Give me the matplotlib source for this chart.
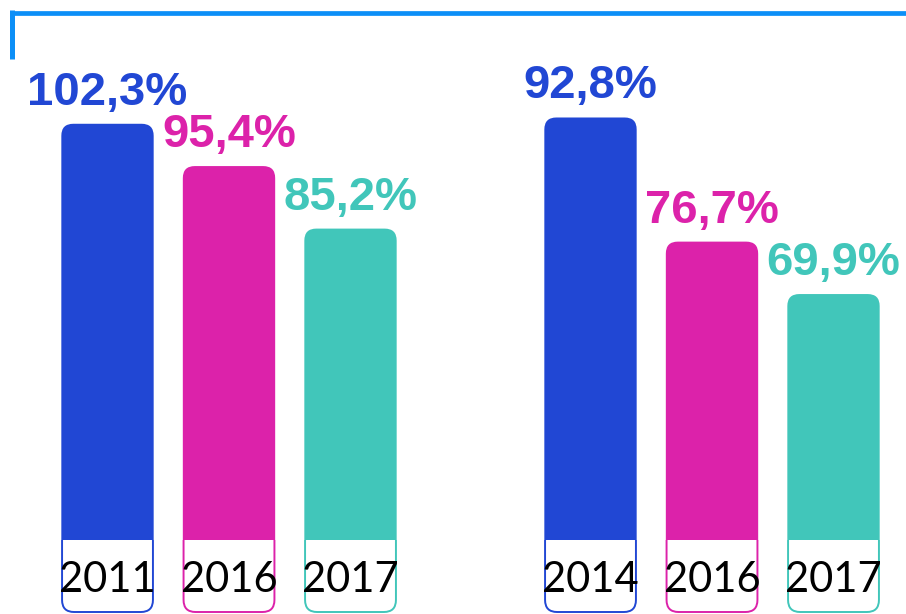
import matplotlib
matplotlib.use("Agg")
import matplotlib.pyplot as plt
from matplotlib.patches import FancyBboxPatch
from matplotlib.lines import Line2D
from matplotlib.transforms import Bbox, TransformedBbox

# data
left_years = ["2011", "2016", "2017"]
left_values = [102.3, 95.4, 85.2]
right_years = ["2014", "2016", "2017"]
right_values = [92.8, 76.7, 69.9]
colors = ["#2147D4", "#DC22AA", "#41C6BA"]

W, H = 906, 614
fig = plt.figure(figsize=(W / 100, H / 100), dpi=100)

BASE_PX = 540      # bar bottom (pixels from top)
STEP_PX = 121.5    # distance between bar centres
BAR_W = 0.76
RADIUS_PX = 12

# only show the year boxes below the bar bottoms
below = TransformedBbox(Bbox([[0, 0], [1, (H - BASE_PX) / H]]), fig.transFigure)


def fmt(v):
    return f"{v:.1f}".replace(".", ",") + "%"


def draw_group(left_px, years, values, ybase, ppu):
    # ppu: pixels per value unit, ybase: value at bar bottom
    ax = fig.add_axes([left_px / W, (H - BASE_PX) / H, 3 * STEP_PX / W, BASE_PX / H])
    ax.set_xlim(-0.5, 2.5)
    ax.set_ylim(ybase, ybase + BASE_PX / ppu)
    ax.axis("off")
    xpp = 1 / STEP_PX   # x units per pixel
    ypp = 1 / ppu       # y units per pixel
    aspect = ypp / xpp
    r = RADIUS_PX * xpp
    for i, (yr, v, c) in enumerate(zip(years, values, colors)):
        x0 = i - BAR_W / 2
        # bar with rounded top, bottom clipped at axes edge
        bottom = ybase - 30 * ypp
        ax.add_patch(FancyBboxPatch((x0, bottom), BAR_W, v - bottom,
                                    boxstyle=f"round,pad=0,rounding_size={r}",
                                    mutation_aspect=aspect, fc=c, ec="none", zorder=3))
        # year box below the bar
        yb0 = ybase - (612 - BASE_PX) * ypp
        yb1 = ybase + 25 * ypp
        box = FancyBboxPatch((x0 + 0.006, yb0), BAR_W - 0.012, yb1 - yb0,
                             boxstyle=f"round,pad=0,rounding_size={r}",
                             mutation_aspect=aspect, fc="none", ec=c, lw=1.4, zorder=1)
        ax.add_patch(box)
        box.set_clip_path(None)
        box.set_clip_box(below)
        ax.text(i, ybase - (592 - BASE_PX) * ypp, yr, ha="center", va="baseline",
                fontsize=30, family="Lato", color="black", zorder=4, clip_on=False)
        ax.annotate(fmt(v), (i, v), xytext=(0, 19 * 0.72), textcoords="offset points",
                    ha="center", va="baseline", fontsize=34, fontweight="bold",
                    family="Liberation Sans", color=c, zorder=4, annotation_clip=False)
    return ax


draw_group(107.5 - STEP_PX / 2, left_years, left_values, 34.4, 6.13)
draw_group(590.5 - STEP_PX / 2, right_years, right_values, 38.0, 7.71)

# top frame line
blue = "#0C8FF7"
fig.add_artist(Line2D([10 / W, 1], [1 - 12.5 / H, 1 - 12.5 / H], color=blue, lw=3.4,
                      solid_capstyle="butt"))
fig.add_artist(Line2D([12 / W, 12 / W], [1 - 10 / H, 1 - 59 / H], color=blue, lw=3.6,
                      solid_capstyle="butt"))

fig.savefig("out.png", dpi=100, facecolor="white")
